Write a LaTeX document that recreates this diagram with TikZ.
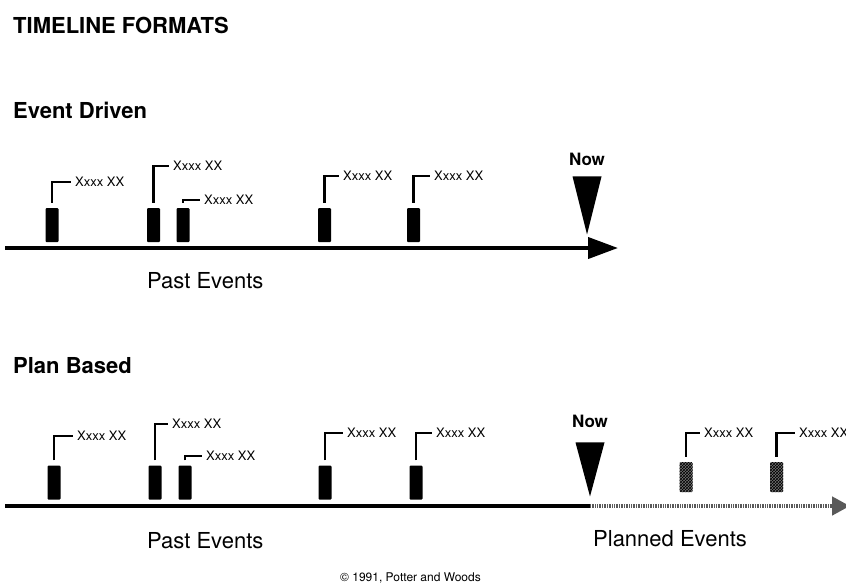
\documentclass[tikz,border=0pt]{standalone}
\usepackage{fontspec}
\setmainfont{TeX Gyre Heros}
\usetikzlibrary{shapes.geometric,arrows.meta,patterns}

\tikzset{
  bar/.style={fill=black, inner sep=0pt, minimum width=13pt, minimum height=34pt, rounded corners=1pt},
  planbar/.style={bar, fill=black!55, postaction={pattern=crosshatch, pattern color=black}, minimum height=30pt},
  tag/.style={font=\fontsize{13}{13}\selectfont, anchor=west, inner sep=1pt},
  lead/.style={line width=2.3pt, shorten <=5pt, shorten >=3pt},
  nowmark/.style={isosceles triangle, isosceles triangle stretches, shape border rotate=-90, fill=black, inner sep=0pt, minimum width=29pt, minimum height=58pt, anchor=apex},
  nowtext/.style={font=\fontsize{17}{17}\selectfont\bfseries, anchor=base, inner sep=0pt},
  heading/.style={font=\fontsize{22}{24}\selectfont\bfseries, anchor=base west, inner sep=0pt},
  caption/.style={font=\fontsize{22}{24}\selectfont, anchor=base west, inner sep=0pt},
  axis/.style={line width=4pt, -{Triangle[length=30pt,width=21pt]}},
  planline/.style={line width=4.5pt, black!65, dash pattern=on 1pt off 0.7pt, -{Triangle[length=18pt,width=18pt]}},
}

\begin{document}
\begin{tikzpicture}[x=1pt,y=-1pt]
\useasboundingbox (0,0) rectangle (846,587);

\node[heading] (title) at (13,33) {TIMELINE FORMATS};

% event driven
\node[heading] (evhead) at (13,118) {Event Driven};

\node[bar] (e1) at (52,225) {};
\node[bar] (e2) at (153.5,225) {};
\node[bar] (e3) at (183,225) {};
\node[bar] (e4) at (324.5,225) {};
\node[bar] (e5) at (413.5,225) {};

\node[tag] (te1) at (74,182) {Xxxx XX};
\node[tag] (te2) at (172,166) {Xxxx XX};
\node[tag] (te3) at (203,200) {Xxxx XX};
\node[tag] (te4) at (342,176) {Xxxx XX};
\node[tag] (te5) at (433,176) {Xxxx XX};

\draw[lead] (e1.north) |- (te1.west);
\draw[lead] (e2.north) |- (te2.west);
\draw[lead] (e3.north) |- (te3.west);
\draw[lead] (e4.north) |- (te4.west);
\draw[lead] (e5.north) |- (te5.west);

\node[nowtext] (now1) at (587,165) {Now};
\node[nowmark] (tri1) at (587,235) {};

\coordinate (s1) at (5,248);
\coordinate (end1) at (618,248);
\draw[axis] (s1) -- (end1);

\node[caption] (past1) at (147,288) {Past Events};

% plan based
\node[heading] (planhead) at (13,373) {Plan Based};

\node[bar] (p1) at (54,482.5) {};
\node[bar] (p2) at (155,482.5) {};
\node[bar] (p3) at (185,482.5) {};
\node[bar] (p4) at (325,482.5) {};
\node[bar] (p5) at (416,482.5) {};
\node[planbar] (f1) at (686,477) {};
\node[planbar] (f2) at (776.5,477) {};

\node[tag] (tp1) at (76,436) {Xxxx XX};
\node[tag] (tp2) at (171,424) {Xxxx XX};
\node[tag] (tp3) at (205,456) {Xxxx XX};
\node[tag] (tp4) at (346,433) {Xxxx XX};
\node[tag] (tp5) at (435,433) {Xxxx XX};
\node[tag] (tf1) at (703,433) {Xxxx XX};
\node[tag] (tf2) at (798,433) {Xxxx XX};

\draw[lead] (p1.north) |- (tp1.west);
\draw[lead] (p2.north) |- (tp2.west);
\draw[lead] (p3.north) |- (tp3.west);
\draw[lead] (p4.north) |- (tp4.west);
\draw[lead] (p5.north) |- (tp5.west);
\draw[lead] (f1.north) |- (tf1.west);
\draw[lead] (f2.north) |- (tf2.west);

\node[nowtext] (now2) at (590,427) {Now};
\node[nowmark, minimum height=54pt] (tri2) at (590,497) {};

\coordinate (s2) at (5,506);
\coordinate (m2) at (590,506);
\coordinate (end2) at (850,506);
\draw[line width=4pt] (s2) -- (m2);
\draw[planline] (m2) -- (end2);

\node[caption] (past2) at (147,548) {Past Events};
\node[caption] (planned) at (593,546) {Planned Events};

\node[font=\fontsize{12}{12}\selectfont, anchor=base west, inner sep=0pt] (copy) at (340,581) {\textcopyright{} 1991, Potter and Woods};
\end{tikzpicture}
\end{document}
